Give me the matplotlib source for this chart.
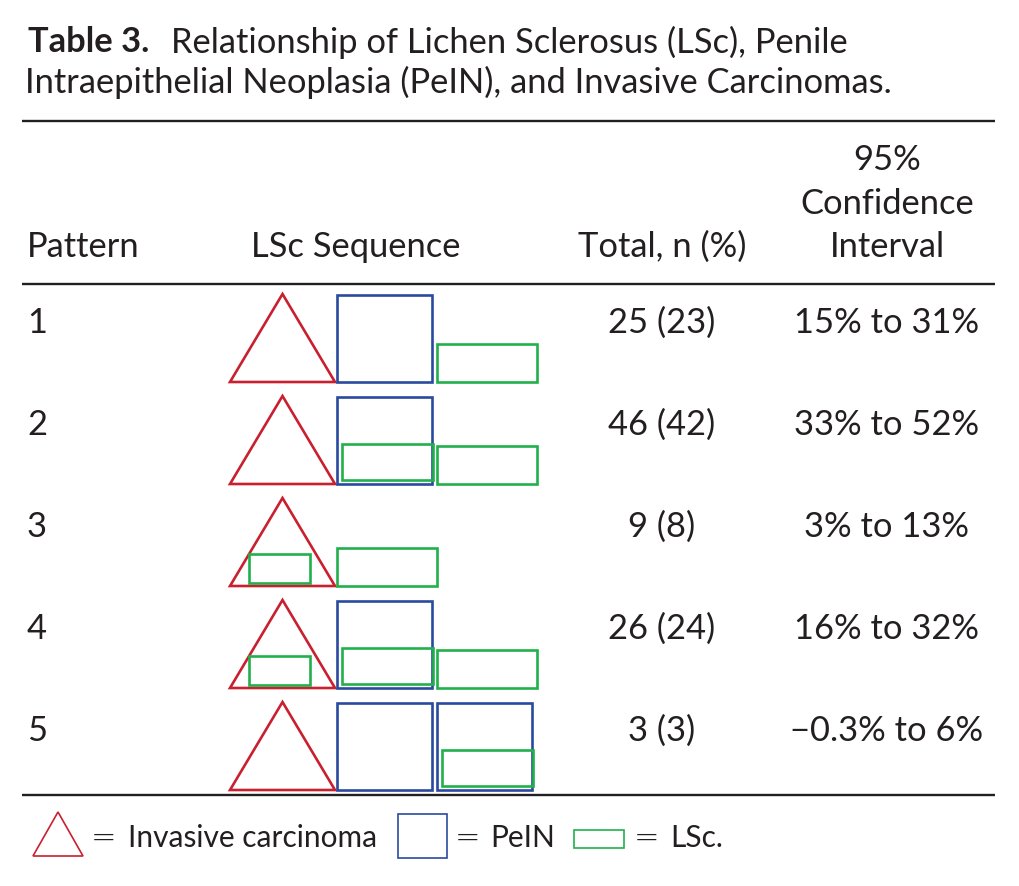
import matplotlib
matplotlib.use("Agg")
import matplotlib.pyplot as plt
from matplotlib.patches import Polygon, Rectangle

# ---------------- data ----------------
patterns = ["1", "2", "3", "4", "5"]
total_n = [25, 46, 9, 26, 3]
total_pct = [23, 42, 8, 24, 3]
ci_low = [15, 33, 3, 16, -0.3]
ci_high = [31, 52, 13, 32, 6]
# T = invasive carcinoma (triangle), P = PeIN (square), L = LSc (rectangle);
# "PL"/"TL" = LSc inside PeIN / carcinoma
sequences = [["T", "P", "L"],
             ["T", "PL", "L"],
             ["TL", "L"],
             ["TL", "PL", "L"],
             ["T", "P", "PL"]]

title_bold = "Table 3."
title_line1 = "Relationship of Lichen Sclerosus (LSc), Penile"
title_line2 = "Intraepithelial Neoplasia (PeIN), and Invasive Carcinomas."
headers = ["Pattern", "LSc Sequence", "Total, n (%)", ["95%", "Confidence", "Interval"]]
legend_labels = ["Invasive carcinoma", "PeIN", "LSc."]

# ---------------- style ----------------
RED = "#C8202F"
BLUE = "#2B4A9F"
GREEN = "#21B04B"
INK = "#231F20"
FONT = "Lato"
FS = 24.8
LFS = 21.5

def fmt_pct(v):
    s = f"{v:g}%"
    return s.replace("-", "\u2212")

fig = plt.figure(figsize=(10.2, 8.86), dpi=100)
ax = fig.add_axes([0, 0, 1, 1])
ax.set_xlim(0, 1020)
ax.set_ylim(886, 0)
ax.axis("off")

txt = dict(family=FONT, fontsize=FS, color=INK)

# title
tb = ax.text(28, 42, title_bold, fontweight="bold", va="center", ha="left", **txt)
fig.canvas.draw()
bb = tb.get_window_extent(renderer=fig.canvas.get_renderer())
bold_end = ax.transData.inverted().transform((bb.x1, bb.y0))[0]
ax.text(bold_end + 22, 42, title_line1, va="center", ha="left", **txt)
ax.text(25, 82, title_line2, va="center", ha="left", **txt)

# rules
for y in (121, 284, 795):
    ax.plot([22, 995], [y, y], color=INK, lw=1.7, solid_capstyle="butt")

# header
hy = 247
ax.text(27, hy, headers[0], va="center", ha="left", **txt)
ax.text(251, hy, headers[1], va="center", ha="left", **txt)
ax.text(662, hy, headers[2], va="center", ha="center", **txt)
for k, line in enumerate(reversed(headers[3])):
    ax.text(887, hy - 43.5 * k, line, va="center", ha="center", **txt)

# rows
row0, pitch = 323, 102
LW = 1.9

def tri(x0, base, w, h, lw, inner=False):
    ax.add_patch(Polygon([(x0, base), (x0 + w, base), (x0 + w / 2, base - h)],
                         closed=True, fill=False, ec=RED, lw=lw, joinstyle="miter"))
    if inner:
        ax.add_patch(Rectangle((x0 + 0.18 * w, base - 3 - 29), 0.58 * w, 29,
                               fill=False, ec=GREEN, lw=lw))

def sq(x0, base, w, h, lw, inner=False):
    ax.add_patch(Rectangle((x0, base - h), w, h, fill=False, ec=BLUE, lw=lw))
    if inner:
        ax.add_patch(Rectangle((x0 + 5, base - 4 - 36), w - 4, 36,
                               fill=False, ec=GREEN, lw=lw))

def ls(x0, base, w, h, lw):
    ax.add_patch(Rectangle((x0, base - h), w, h, fill=False, ec=GREEN, lw=lw))

for i, (p, n, pc, lo, hi, seq) in enumerate(zip(patterns, total_n, total_pct,
                                                  ci_low, ci_high, sequences)):
    yc = row0 + pitch * i
    ax.text(27, yc, p, va="center", ha="left", **txt)
    ax.text(662, yc, f"{n} ({pc})", va="center", ha="center", **txt)
    ax.text(887, yc, f"{fmt_pct(lo)} to {fmt_pct(hi)}", va="center", ha="center", **txt)
    base = yc + 59
    x = 230
    for s in seq:
        if s[0] == "T":
            tri(x, base, 105, 88, LW, inner=("L" in s))
            x += 105 + 2
        elif s[0] == "P":
            sq(x, base, 95, 87, LW, inner=("L" in s))
            x += 95 + 5
        else:
            ls(x, base, 100, 38, LW)
            x += 100 + 2

# legend
ly = 838
LLW = 1.2
ltxt = dict(family=FONT, fontsize=LFS, color=INK, va="center")
eq = dict(family="DejaVu Sans", fontsize=22, color=INK, va="center", ha="center",
          fontweight="light")
tri(33, 856, 50, 44, LLW)
ax.text(104, ly, "=", **eq)
ax.text(128, ly, legend_labels[0], ha="left", **ltxt)
sq(398, 858, 49, 44, LLW)
ax.text(468, ly, "=", **eq)
ax.text(490, ly, legend_labels[1], ha="left", **ltxt)
ls(574, 848, 50, 18, LLW)
ax.text(647, ly, "=", **eq)
ax.text(670, ly, legend_labels[2], ha="left", **ltxt)

fig.savefig("out.png", dpi=100, facecolor="white")
